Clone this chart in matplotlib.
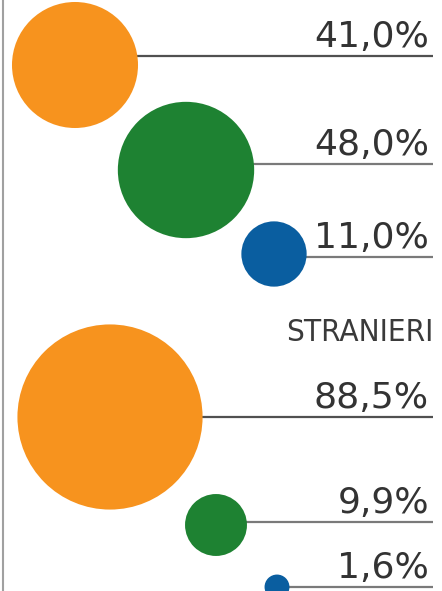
import matplotlib
matplotlib.use("Agg")
import matplotlib.pyplot as plt
from matplotlib.patches import Circle
import numpy as np

# data
values = [41.0, 48.0, 11.0, 88.5, 9.9, 1.6]
labels = ["41,0%", "48,0%", "11,0%", "88,5%", "9,9%", "1,6%"]
group_title = "STRANIERI"
colors = ["#F7931E", "#1E8232", "#0A5EA0", "#F7931E", "#1E8232", "#0A5EA0"]

# layout (pixels)
W, H = 442, 591
cx = [75, 186, 274, 110, 216, 277]
cy = [65, 170, 254, 417, 525, 587]
line_y = [56, 164, 257, 417, 522, 587]
line_colors = ["#505050", "#7a7a7a", "#7a7a7a", "#505050", "#7a7a7a", "#7a7a7a"]
k = 9.84  # pixel radius per sqrt(percent)

fig = plt.figure(figsize=(W / 100, H / 100), dpi=100)
ax = fig.add_axes([0, 0, 1, 1])
ax.set_xlim(0, W)
ax.set_ylim(H, 0)
ax.axis("off")

# left border line
ax.plot([3, 3], [0, H], color="#a0a0a0", lw=1.5, solid_capstyle="butt")

for v, lab, c, x, y, ly, lc in zip(values, labels, colors, cx, cy, line_y, line_colors):
    r = k * np.sqrt(v)
    ax.plot([x + r * 0.95, 433], [ly, ly], color=lc, lw=1.6, zorder=1,
            solid_capstyle="butt")
    ax.add_patch(Circle((x, y), r, facecolor=c, edgecolor="none", zorder=2))
    ax.text(429, ly - 9, lab, ha="right", va="baseline", fontsize=26,
            color="#333333", family="DejaVu Sans", zorder=3)

ax.text(433, 341, group_title, ha="right", va="baseline", fontsize=22.5,
        color="#3a3a3a", family="DejaVu Sans", fontstretch="condensed",
        fontweight="normal")

fig.savefig("out.png", dpi=100)
